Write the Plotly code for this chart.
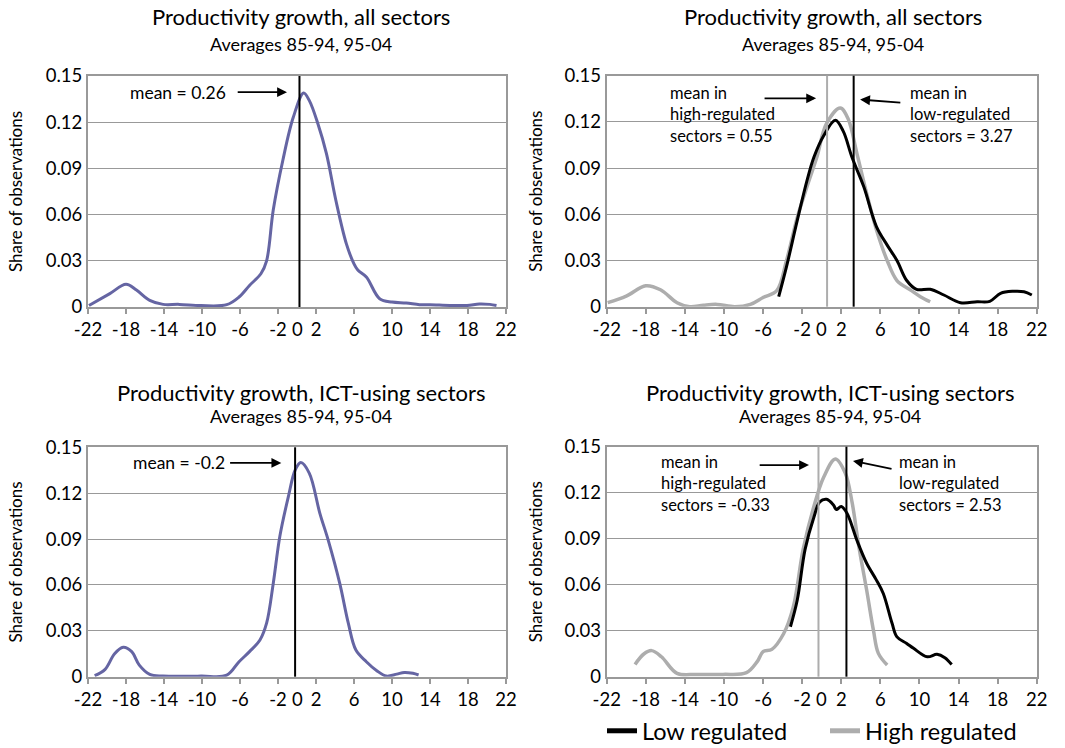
import plotly.graph_objects as go

# ---------------- data ----------------
# Panel 1: all sectors, pooled
all_x = [-21.9, -19.7, -18.0, -16.9, -15.5, -14.1, -12.4, -10.1, -7.4, -6.1, -5.0, -3.8, -3.2, -2.5,
         -1.5, -0.4, 0.7, 1.3, 2.2, 3.1, 4.1, 5.2, 6.0, 6.4, 7.3, 8.7, 10.0, 11.5, 12.9, 14.0,
         16.1, 17.9, 19.2, 20.3, 21.0]
all_y = [0.001, 0.0087, 0.0147, 0.011, 0.0043, 0.0017, 0.0017, 0.0009, 0.0015, 0.0065, 0.014, 0.0216,
         0.030, 0.063, 0.095, 0.123, 0.139, 0.134, 0.119, 0.0996, 0.069, 0.041, 0.028, 0.024, 0.0195,
         0.0054, 0.0032, 0.0026, 0.0015, 0.0015, 0.001, 0.001, 0.002, 0.0017, 0.001]
all_mean = 0.26

# Panel 2: all sectors by regulation
all_high_x = [-21.9, -20.0, -18.0, -16.5, -14.8, -13.5, -12.1, -10.7, -8.9, -7.3, -6.0, -4.6, -3.6, -2.5,
              -1.5, -0.5, 0.5, 1.9, 2.7, 3.6, 4.6, 5.6, 6.7, 7.7, 9.1, 10.1, 11.1]
all_high_y = [0.0026, 0.0069, 0.0136, 0.011, 0.0026, 0.0, 0.001, 0.0015, 0.0, 0.0015, 0.006, 0.0104,
              0.030, 0.058, 0.078, 0.097, 0.119, 0.129, 0.122, 0.0996, 0.0736, 0.050, 0.030, 0.017,
              0.0108, 0.0065, 0.0032]
all_low_x = [-4.4, -3.6, -2.5, -1.5, -0.8, 0.2, 1.4, 2.2, 3.1, 4.3, 5.6, 6.7, 7.7, 8.7, 9.7, 11.1, 12.5,
             14.2, 15.9, 17.2, 18.3, 19.6, 20.7, 21.5]
all_low_y = [0.0065, 0.026, 0.056, 0.082, 0.097, 0.111, 0.121, 0.114, 0.097, 0.078, 0.052, 0.040, 0.030,
             0.017, 0.0113, 0.0113, 0.0076, 0.0026, 0.0032, 0.0035, 0.0087, 0.010, 0.0097, 0.0076]
all_high_mean = 0.55
all_low_mean = 3.27

# Panel 3: ICT-using sectors, pooled
ict_x = [-21.3, -20.2, -19.2, -18.3, -17.4, -16.6, -15.5, -14.1, -10.1, -7.4, -6.1, -5.0, -3.9, -3.2,
         -2.5, -1.8, -0.9, -0.2, 0.4, 1.3, 2.4, 3.3, 4.5, 5.4, 6.2, 7.3, 8.4, 9.4, 10.5, 11.3, 12.2, 12.8]
ict_y = [0.0007, 0.0048, 0.015, 0.0192, 0.0164, 0.0076, 0.0015, 0.0004, 0.0004, 0.001, 0.0098, 0.0164,
         0.024, 0.035, 0.061, 0.092, 0.118, 0.135, 0.140, 0.133, 0.107, 0.089, 0.061, 0.035, 0.0174,
         0.0098, 0.0039, 0.0004, 0.0017, 0.0028, 0.0022, 0.0011]
ict_mean = -0.2

# Panel 4: ICT-using sectors by regulation
ict_high_x = [-19.1, -18.2, -17.4, -16.4, -14.8, -12.8, -10.1, -7.7, -6.6, -6.0, -5.1, -3.9, -2.9, -1.9,
              -0.8, 0.2, 1.4, 2.4, 3.1, 3.8, 4.6, 5.3, 5.8, 6.7]
ict_high_y = [0.008, 0.0148, 0.017, 0.013, 0.0022, 0.0015, 0.0015, 0.0026, 0.0098, 0.0163, 0.0178, 0.028,
              0.0457, 0.083, 0.111, 0.130, 0.142, 0.133, 0.114, 0.085, 0.0565, 0.030, 0.0152, 0.0076]
ict_low_x = [-3.2, -2.5, -1.7, -0.8, -0.2, 0.5, 1.2, 1.5, 2.0, 2.6, 3.6, 4.6, 5.6, 6.3, 7.2, 7.7, 8.7,
             9.4, 10.8, 11.8, 12.6, 13.3]
ict_low_y = [0.0326, 0.050, 0.083, 0.104, 0.114, 0.1157, 0.112, 0.109, 0.111, 0.1065, 0.089, 0.074, 0.063,
             0.0543, 0.0348, 0.026, 0.0217, 0.0185, 0.013, 0.0146, 0.0124, 0.008]
ict_high_mean = -0.33
ict_low_mean = 2.53

x_ticks = [-22, -18, -14, -10, -6, -2, 2, 6, 10, 14, 18, 22]
y_ticks = [0, 0.03, 0.06, 0.09, 0.12, 0.15]
y_ticklabels = ["0", "0.03", "0.06", "0.09", "0.12", "0.15"]

titles = ["Productivity growth, all sectors", "Productivity growth, all sectors",
          "Productivity growth, ICT-using sectors", "Productivity growth, ICT-using sectors"]
subtitle = "Averages 85-94, 95-04"
y_title = "Share of observations"
legend_names = ["Low regulated", "High regulated"]

# ---------------- style ----------------
FONT = "Lato"
PURPLE = "#6565A3"
GREY = "#ADADAD"
AXIS = "#999999"
W, H = 1065, 748
OFF = 0          # page body margin is removed by the post script
TICK_SIZE = 18.5
NOTE_SIZE = 17.5
BLOCK_SIZE = 16.5


def px(xp):
    return (xp - OFF) / W


def py(yp):
    return 1 - (yp - OFF) / H


doms_x = [(px(88), px(506)), (px(606.7), px(1036.7)), (px(88), px(506)), (px(606.7), px(1036.7))]
doms_y = [(py(307), py(76)), (py(306.7), py(75.7)), (py(676.7), py(447.3)), (py(676.7), py(446.7))]
standoffs = [19, 17, 19, 17]

fig = go.Figure()


def ax_name(i, kind):
    return f"{kind}{'' if i == 0 else i + 1}"


# traces
fig.add_trace(go.Scatter(x=all_x, y=all_y, mode="lines", line=dict(color=PURPLE, width=3, shape="spline"),
                         showlegend=False, xaxis="x", yaxis="y"))
fig.add_trace(go.Scatter(x=all_high_x, y=all_high_y, mode="lines", line=dict(color=GREY, width=3.5, shape="spline"),
                         showlegend=False, xaxis="x2", yaxis="y2"))
fig.add_trace(go.Scatter(x=all_low_x, y=all_low_y, mode="lines", line=dict(color="black", width=3, shape="spline"),
                         showlegend=False, xaxis="x2", yaxis="y2"))
fig.add_trace(go.Scatter(x=ict_x, y=ict_y, mode="lines", line=dict(color=PURPLE, width=3, shape="spline"),
                         showlegend=False, xaxis="x3", yaxis="y3"))
fig.add_trace(go.Scatter(x=ict_high_x, y=ict_high_y, mode="lines", line=dict(color=GREY, width=3.5, shape="spline"),
                         showlegend=False, xaxis="x4", yaxis="y4"))
fig.add_trace(go.Scatter(x=ict_low_x, y=ict_low_y, mode="lines", line=dict(color="black", width=3, shape="spline"),
                         showlegend=False, xaxis="x4", yaxis="y4"))
# legend entries
fig.add_trace(go.Scatter(x=[None], y=[None], mode="lines", name=legend_names[0],
                         line=dict(color="black", width=5), xaxis="x4", yaxis="y4"))
fig.add_trace(go.Scatter(x=[None], y=[None], mode="lines", name=legend_names[1],
                         line=dict(color=GREY, width=5), xaxis="x4", yaxis="y4"))

layout = dict(width=W, height=H, margin=dict(l=0, r=0, t=0, b=0, autoexpand=False),
              paper_bgcolor="white", plot_bgcolor="white",
              font=dict(family=FONT, color="black", size=TICK_SIZE),
              legend=dict(orientation="h", x=602 / W, y=-5 / H, xanchor="left", yanchor="bottom",
                          font=dict(size=23.5, family=FONT), entrywidth=178, entrywidthmode="pixels",
                          bgcolor="rgba(0,0,0,0)", itemwidth=30))

for i in range(4):
    layout[f"xaxis{'' if i == 0 else i + 1}"] = dict(
        domain=doms_x[i], anchor=ax_name(i, "y"), range=[-22, 22], tickvals=x_ticks,
        ticktext=[str(v) for v in x_ticks], ticks="outside", ticklen=5, tickcolor=AXIS, tickwidth=1.5,
        showgrid=False, zeroline=False, showline=True, linecolor=AXIS, linewidth=2, mirror=True,
        tickfont=dict(size=TICK_SIZE, family=FONT), fixedrange=True)
    layout[f"yaxis{'' if i == 0 else i + 1}"] = dict(
        domain=doms_y[i], anchor=ax_name(i, "x"), range=[0, 0.15], tickvals=y_ticks, ticktext=y_ticklabels,
        showgrid=True, gridcolor=AXIS, gridwidth=1.2, zeroline=False, showline=True, linecolor=AXIS,
        linewidth=2, mirror=True, ticks="", tickfont=dict(size=TICK_SIZE, family=FONT),
        title=dict(text=y_title, font=dict(size=17, family=FONT), standoff=standoffs[i]), fixedrange=True)

fig.update_layout(**layout)

# titles
title_pos = [(301, 17, 44), (833, 17, 44), (301, 392, 416), (830, 392, 416)]
for i, (cx, ty, sy) in enumerate(title_pos):
    fig.add_annotation(text=titles[i], xref="paper", yref="paper", x=px(cx), y=py(ty),
                       showarrow=False, xanchor="center", yanchor="middle", font=dict(size=22, family=FONT))
    fig.add_annotation(text=subtitle, xref="paper", yref="paper", x=px(cx), y=py(sy),
                       showarrow=False, xanchor="center", yanchor="middle", font=dict(size=18, family=FONT))

# "0" label under each x-axis
for i in range(4):
    fig.add_annotation(text="0", xref=ax_name(i, "x"), yref=f"{ax_name(i, 'y')} domain", x=0, y=0,
                       yanchor="top", yshift=-9, showarrow=False, font=dict(size=TICK_SIZE, family=FONT))


# mean lines
def vline(i, xv, color):
    fig.add_shape(type="line", xref=ax_name(i, "x"), yref=f"{ax_name(i, 'y')} domain",
                  x0=xv, x1=xv, y0=0, y1=1, line=dict(color=color, width=2))


vline(0, all_mean, "black")
vline(1, all_high_mean, GREY)
vline(1, all_low_mean, "black")
vline(2, ict_mean, "black")
vline(3, ict_high_mean, GREY)
vline(3, ict_low_mean, "black")


def arrow(i, x_tail, y_tail, x_head, y_head):
    fig.add_annotation(xref=ax_name(i, "x"), yref=ax_name(i, "y"), axref=ax_name(i, "x"), ayref=ax_name(i, "y"),
                       x=x_head, y=y_head, ax=x_tail, ay=y_tail, text="", showarrow=True,
                       arrowhead=2, arrowsize=1.1, arrowwidth=1.8, arrowcolor="black")


def label(i, xv, yv, txt, anchor="left", size=NOTE_SIZE):
    fig.add_annotation(xref=ax_name(i, "x"), yref=ax_name(i, "y"), x=xv, y=yv, text=txt, showarrow=False,
                       xanchor=anchor, yanchor="middle", align="left", font=dict(size=size, family=FONT))


# panel 1
label(0, -7.3, 0.1395, f"mean = {all_mean}", "right")
arrow(0, -6.4, 0.1395, -1.05, 0.1395)
# panel 2
label(1, -15.73, 0.1245, f"mean in<br>high-regulated<br>sectors = {all_high_mean}", size=BLOCK_SIZE)
arrow(1, -6.0, 0.1353, -0.57, 0.1353)
label(1, 8.84, 0.1245, f"mean in<br>low-regulated<br>sectors = {all_low_mean}", size=BLOCK_SIZE)
arrow(1, 8.2, 0.1325, 3.93, 0.1345)
# panel 3
label(2, -7.4, 0.1398, f"mean = {ict_mean}", "right")
arrow(2, -7.2, 0.1398, -1.65, 0.1398)
# panel 4
label(3, -16.65, 0.1257, f"mean in<br>high-regulated<br>sectors = {ict_high_mean}", size=BLOCK_SIZE)
arrow(3, -6.5, 0.138, -1.3, 0.138)
label(3, 7.68, 0.1257, f"mean in<br>low-regulated<br>sectors = {ict_low_mean}", size=BLOCK_SIZE)
arrow(3, 7.3, 0.1353, 3.2, 0.1407)

fig.write_html("out.html", config={"displayModeBar": False},
               post_script="document.body.style.margin='0';")
